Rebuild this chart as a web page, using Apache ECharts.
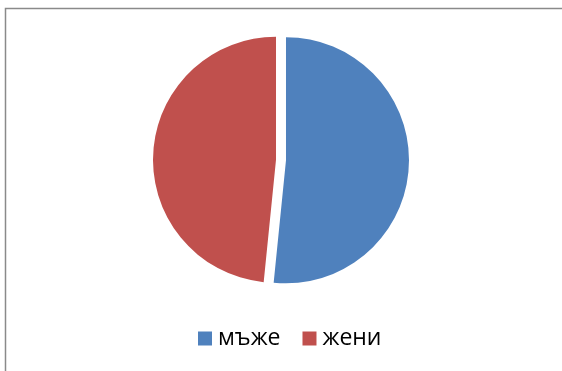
<!DOCTYPE html>
<html>
<head>
<meta charset="utf-8">
<style>
  html, body { margin: 0; padding: 0; background: #fff; }
  #chart { width: 562px; height: 371px; }
</style>
<script src="https://cdn.jsdelivr.net/npm/echarts@6/dist/echarts.min.js"></script>
</head>
<body>
<div id="chart"></div>
<script>
// Share of men and women (percent)
const categories = ['мъже', 'жени'];
const values = [51.6, 48.4];
const colors = ['#4F81BD', '#C0504D'];

const chart = echarts.init(document.getElementById('chart'), null, { renderer: 'canvas' });

chart.setOption({
  animation: false,
  backgroundColor: '#ffffff',
  graphic: [{
    type: 'polyline',
    shape: { points: [[5.5, 371], [5.5, 8.5], [562, 8.5]] },
    style: { stroke: '#8a8a8a', lineWidth: 1.5, fill: null },
    silent: true
  }],
  legend: {
    data: categories,
    left: 193,
    top: 322,
    itemWidth: 14,
    itemHeight: 14,
    itemGap: 22,
    icon: 'rect',
    textStyle: { fontFamily: 'Open Sans', fontSize: 23, color: '#000', padding: [0, 0, 0, 1] }
  },
  series: [{
    type: 'pie',
    center: [281, 160],
    radius: 123,
    startAngle: 90,
    clockwise: true,
    selectedMode: 'multiple',
    selectedOffset: 5,
    label: { show: false },
    labelLine: { show: false },
    emphasis: { disabled: true },
    itemStyle: { borderWidth: 0 },
    data: categories.map((name, i) => ({
      name,
      value: values[i],
      selected: true,
      itemStyle: { color: colors[i] }
    }))
  }]
});
</script>
</body>
</html>
